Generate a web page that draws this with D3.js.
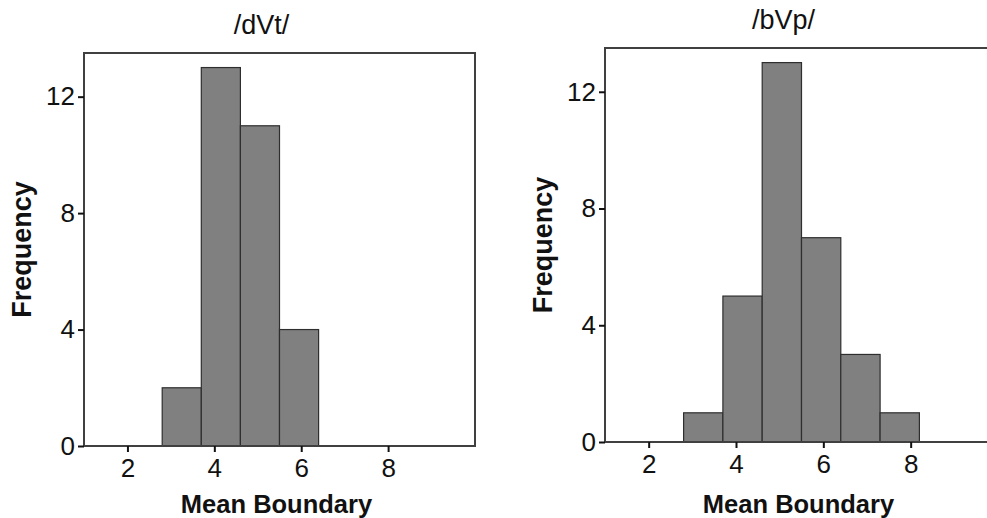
<!DOCTYPE html>
<html lang="en">
<head>
    <meta charset="UTF-8">
    <title>Mean Boundary histograms</title>
    <script src="https://d3js.org/d3.v7.min.js"></script>
    <style>
        body {
            margin: 0;
            background: white;
            font-family: "Liberation Sans", Arial, Helvetica, sans-serif;
        }
    </style>
</head>
<body>
    <svg id="vis"></svg>
    <script>
        const width = 987;
        const height = 518;

        // histogram bins (lower edges) shared by both panels, bin width 0.9
        const binStarts = [2.8, 3.7, 4.6, 5.5, 6.4, 7.3];
        const binWidth = 0.9;
        const dvtCounts = [2, 13, 11, 4];
        const bvpCounts = [1, 5, 13, 7, 3, 1];
        const xTicks = [2, 4, 6, 8];
        const yTicks = [0, 4, 8, 12];

        const svg = d3.select("#vis").attr("width", width).attr("height", height);

        function drawPanel(title, counts, box) {
            const x = d3.scaleLinear().domain([1, 10]).range([box.left, box.right]);
            const y = d3.scaleLinear().domain([0, 13.5]).range([box.bottom, box.top]);
            const g = svg.append("g");

            const bins = counts.map((c, i) => ({ x0: binStarts[i], x1: binStarts[i] + binWidth, n: c }));

            g.selectAll("rect.bar")
                .data(bins)
                .join("rect")
                .attr("class", "bar")
                .attr("x", d => x(d.x0))
                .attr("y", d => y(d.n))
                .attr("width", d => x(d.x1) - x(d.x0))
                .attr("height", d => y(0) - y(d.n))
                .attr("fill", "#808080")
                .attr("stroke", "#2e2e2e")
                .attr("stroke-width", 1.2);

            // frame
            g.append("rect")
                .attr("x", box.left)
                .attr("y", box.top)
                .attr("width", box.right - box.left)
                .attr("height", box.bottom - box.top)
                .attr("fill", "none")
                .attr("stroke", "#404040")
                .attr("stroke-width", 2);

            const yAxis = g.append("g")
                .attr("transform", `translate(${box.left},0)`)
                .call(d3.axisLeft(y).tickValues(yTicks).tickSize(6).tickPadding(3));
            const xAxis = g.append("g")
                .attr("transform", `translate(0,${box.bottom})`)
                .call(d3.axisBottom(x).tickValues(xTicks).tickSize(6).tickPadding(7));

            [xAxis, yAxis].forEach(a => {
                a.select(".domain").remove();
                a.selectAll("line").attr("stroke", "#111").attr("stroke-width", 2);
                a.selectAll("text")
                    .attr("fill", "#111")
                    .attr("font-family", "Liberation Sans, Arial, sans-serif")
                    .attr("font-size", 26);
            });

            const cx = (box.left + box.right) / 2;

            g.append("text")
                .attr("x", cx - 18)
                .attr("y", box.top - 19)
                .attr("text-anchor", "middle")
                .attr("font-size", 27)
                .attr("fill", "#111")
                .text(title);

            g.append("text")
                .attr("x", cx - 3)
                .attr("y", 513)
                .attr("text-anchor", "middle")
                .attr("font-size", 25.5)
                .attr("font-weight", "bold")
                .attr("fill", "#111")
                .text("Mean Boundary");

            g.append("text")
                .attr("transform", `translate(${box.left - 53},${(box.top + box.bottom) / 2}) rotate(-90)`)
                .attr("text-anchor", "middle")
                .attr("font-size", 27)
                .attr("font-weight", "bold")
                .attr("fill", "#111")
                .text("Frequency");
        }

        drawPanel("/dVt/", dvtCounts, { left: 84, right: 475, top: 53, bottom: 446 });
        drawPanel("/bVp/", bvpCounts, { left: 605, right: 998, top: 48, bottom: 442 });
    </script>
</body>
</html>
